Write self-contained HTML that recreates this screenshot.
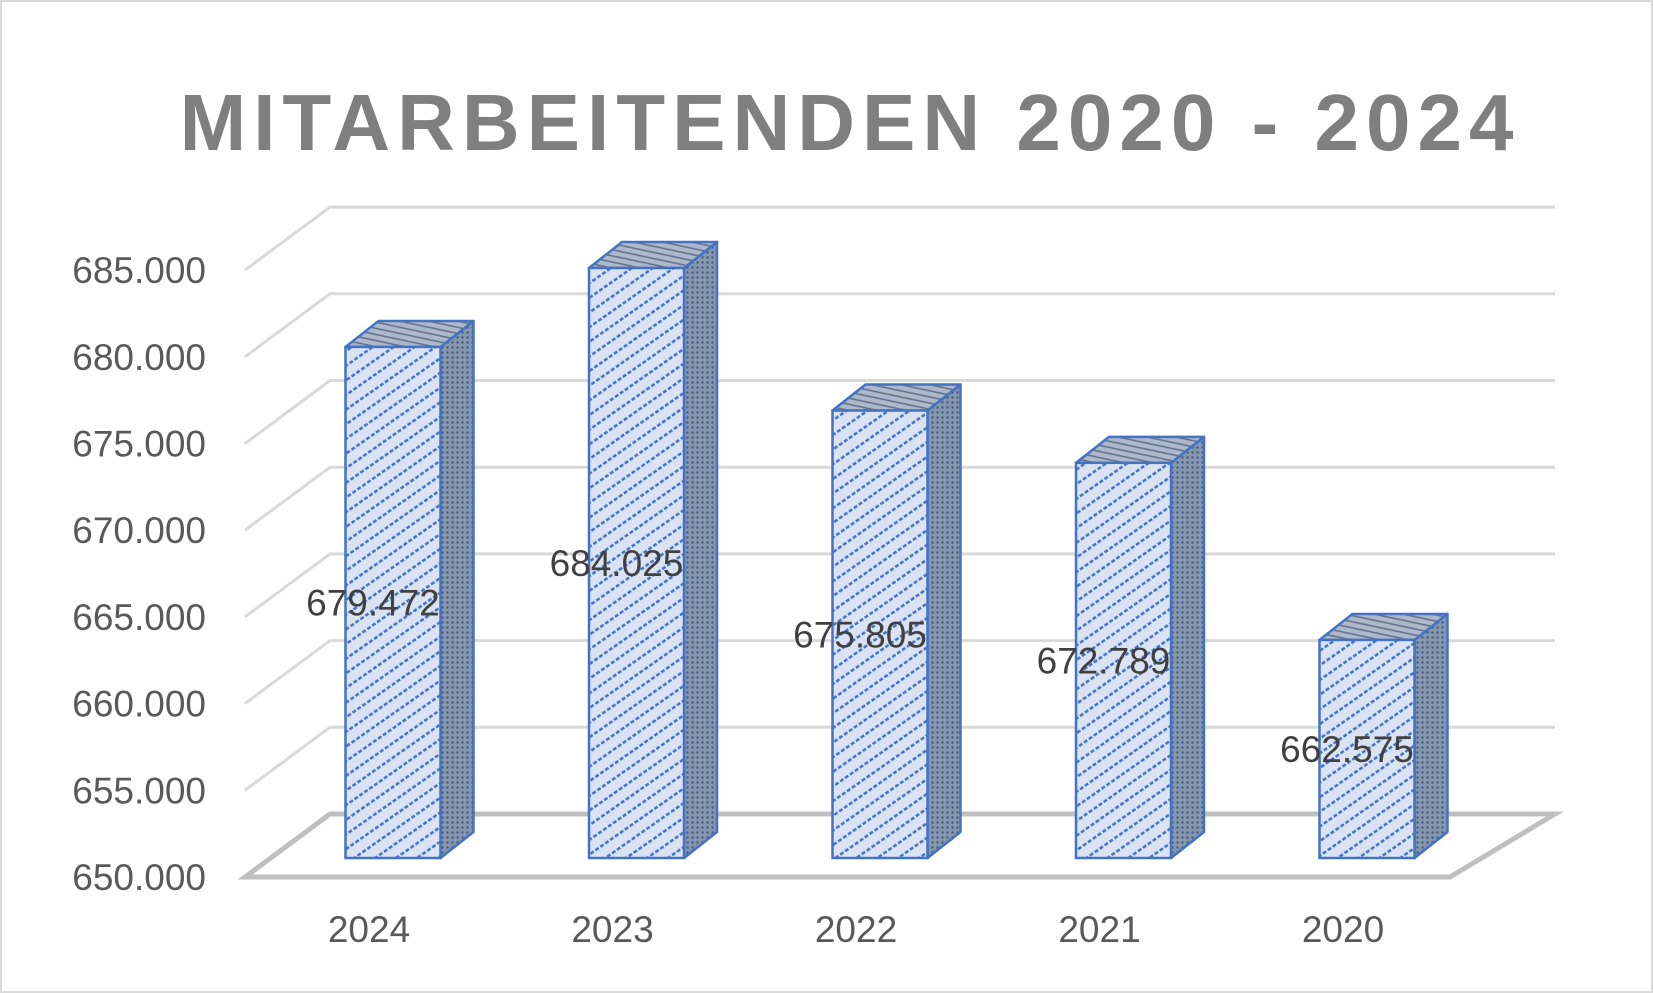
<!DOCTYPE html>
<html><head><meta charset="utf-8"><style>
html,body{margin:0;padding:0;background:#fff}
svg{display:block}
text{font-family:"Liberation Sans",sans-serif}
</style></head><body>
<svg id="chart" width="1653" height="993" viewBox="0 0 1653 993">
<defs>
<pattern id="pFront" width="12" height="12" patternUnits="userSpaceOnUse" patternTransform="rotate(-35)">
<rect width="12" height="12" fill="#dae3f3"/><line x1="0" y1="6" x2="12" y2="6" stroke="#4472c4" stroke-width="2.4" stroke-dasharray="4 2"/></pattern>
<pattern id="pSide" width="5" height="5" patternUnits="userSpaceOnUse"><rect width="5" height="5" fill="#8497b0"/><circle cx="2.5" cy="2.5" r="1.2" fill="#4a5a78"/></pattern>
<pattern id="pTop" width="6" height="6" patternUnits="userSpaceOnUse" patternTransform="rotate(12)"><rect width="6" height="6" fill="#adb9ca"/><line x1="0" y1="3" x2="6" y2="3" stroke="#5f6f8a" stroke-width="1.5"/></pattern>
</defs>
<rect x="1" y="1" width="1651" height="991" fill="#fff" stroke="#d9d9d9" stroke-width="2"/>
<text x="850" y="150" text-anchor="middle" font-size="80" font-weight="bold" fill="#7f7f7f" letter-spacing="7">MITARBEITENDEN 2020 - 2024</text>
<g id="grid"></g><g id="bars"></g><g id="labels"></g>
</svg>
<script>
const categories = ["2024","2023","2022","2021","2020"];
const values = [679472, 684025, 675805, 672789, 662575];
const valueLabels = ["679.472","684.025","675.805","672.789","662.575"];
const ticks = [650000,655000,660000,665000,670000,675000,680000,685000];
const tickLabels = ["650.000","655.000","660.000","665.000","670.000","675.000","680.000","685.000"];
const NS="http://www.w3.org/2000/svg";
const yMin=650000, yBot=814, pxPer=86.7/5000;
const backX0=330, backX1=1555, dX=-85, dY=63;
function yB(v){return yBot-(v-yMin)*pxPer;}
function xC(i){return 393+i*243.5;}
function mk(tag,attrs,parent){const e=document.createElementNS(NS,tag);for(const k in attrs)e.setAttribute(k,attrs[k]);parent.appendChild(e);return e;}
const grid=document.getElementById('grid'), bars=document.getElementById('bars'), labels=document.getElementById('labels');
ticks.forEach((t,i)=>{
  const y=yB(t);
  if(i>0){
    const l=mk('polyline',{points:`${backX0+dX},${y+dY} ${backX0},${y} ${backX1},${y}`,fill:'none',stroke:'#d9d9d9','stroke-width':3},grid);
    
    
  }
  const tx=mk('text',{x:206,y:y+dY+13,'text-anchor':'end','font-size':37,fill:'#595959'},labels);
  tx.textContent=tickLabels[i];
  
  
});
const floor=mk('polygon',{points:`${backX0+dX},${yBot+dY} ${backX0},${yBot} ${backX1},${yBot} ${backX1+dX-20},${yBot+dY}`,fill:'none',stroke:'#bfbfbf','stroke-width':5},grid);


const w=95, ox=33, oy=-26, fOff=44;
categories.forEach((c,i)=>{
  const x0=xC(i)-w/2, x1=x0+w, yt=yB(values[i])+fOff, yb=yBot+fOff;
  const g=mk('g',{},bars);
  
  
  mk('polygon',{points:`${x1},${yt} ${x1+ox},${yt+oy} ${x1+ox},${yb+oy} ${x1},${yb}`,fill:'url(#pSide)',stroke:'#4472c4','stroke-width':2.5,'stroke-linejoin':'round'},g);
  mk('polygon',{points:`${x0},${yt} ${x0+ox},${yt+oy} ${x1+ox},${yt+oy} ${x1},${yt}`,fill:'url(#pTop)',stroke:'#4472c4','stroke-width':2.5,'stroke-linejoin':'round'},g);
  mk('rect',{x:x0,y:yt,width:w,height:yb-yt,fill:'url(#pFront)',stroke:'#4472c4','stroke-width':2.5},g);
  const vl=mk('text',{x:xC(i)-20,y:(yt+yb)/2+13,'text-anchor':'middle','font-size':37,fill:'#404040'},labels);
  vl.textContent=valueLabels[i];
  
  
  const cl=mk('text',{x:xC(i)-24,y:942,'text-anchor':'middle','font-size':37,fill:'#595959'},labels);
  cl.textContent=c;
  
  
});
</script>
</body></html>
